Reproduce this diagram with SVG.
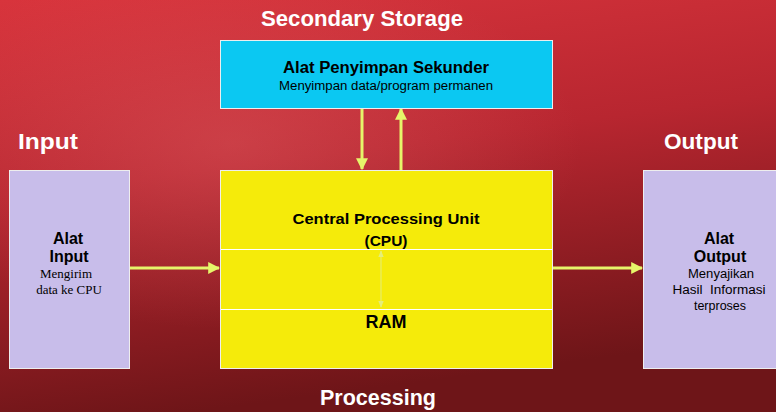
<svg xmlns="http://www.w3.org/2000/svg" width="776" height="412" viewBox="0 0 776 412">
<defs>
<linearGradient id="bg" x1="0" y1="0" x2="0.25" y2="1">
<stop offset="0" stop-color="#d8343c"/>
<stop offset="0.45" stop-color="#b82630"/>
<stop offset="1" stop-color="#6e1518"/>
</linearGradient>
<radialGradient id="glow" cx="0.3" cy="0.35" r="0.45">
<stop offset="0" stop-color="#e86a6e" stop-opacity="0.35"/>
<stop offset="1" stop-color="#e86a6e" stop-opacity="0"/>
</radialGradient>
<marker id="ah" viewBox="0 0 10 10" refX="9" refY="5" markerWidth="4" markerHeight="4" orient="auto-start-reverse">
<path d="M0,0 L10,5 L0,10 z" fill="#e6f56a"/>
</marker>
<marker id="ahf" viewBox="0 0 10 10" refX="9" refY="5" markerWidth="7" markerHeight="7" orient="auto-start-reverse">
<path d="M0,1 L10,5 L0,9 z" fill="#e4ee7a"/>
</marker>
<style>
.hd{font-family:"Liberation Sans",Arial,sans-serif;font-weight:bold;fill:#ffffff;font-size:22px}
.b{font-family:"Liberation Sans",Arial,sans-serif;font-weight:bold;fill:#000}
.s{font-family:"Liberation Sans",Arial,sans-serif;fill:#000;font-size:12.5px}
.sr{font-family:"Liberation Serif","Times New Roman",serif;fill:#000;font-size:13px}
.box{stroke:#eeeeee;stroke-width:1}
.con{stroke:#e6f56a;stroke-width:3;fill:none}
</style>
</defs>
<rect x="0" y="0" width="776" height="412" fill="url(#bg)"/>
<rect x="0" y="0" width="776" height="412" fill="url(#glow)"/>

<text class="hd" x="362" y="26" text-anchor="middle" textLength="202" lengthAdjust="spacingAndGlyphs">Secondary Storage</text>
<text class="hd" x="18" y="149" textLength="60" lengthAdjust="spacingAndGlyphs">Input</text>
<text class="hd" x="664" y="149" textLength="74" lengthAdjust="spacingAndGlyphs">Output</text>
<text class="hd" x="378" y="405" text-anchor="middle" textLength="116" lengthAdjust="spacingAndGlyphs">Processing</text>

<g id="connectors">
<line class="con" x1="362" y1="108" x2="362" y2="169" marker-end="url(#ah)"/>
<line class="con" x1="401" y1="170" x2="401" y2="109" marker-end="url(#ah)"/>
<line class="con" x1="130" y1="268" x2="219" y2="268" marker-end="url(#ah)"/>
<line class="con" x1="553" y1="268" x2="642" y2="268" marker-end="url(#ah)"/>
</g>

<g id="storage">
<rect class="box" x="220.5" y="40.5" width="332" height="68" fill="#0bc8f2"/>
<text class="b" x="386" y="73" text-anchor="middle" font-size="16" textLength="206" lengthAdjust="spacingAndGlyphs">Alat Penyimpan Sekunder</text>
<text class="s" x="386" y="90" text-anchor="middle" textLength="214" lengthAdjust="spacingAndGlyphs">Menyimpan data/program permanen</text>
</g>

<g id="cpu">
<rect class="box" x="220.5" y="170.5" width="332" height="198" fill="#f5eb0a"/>
<line x1="221" y1="249.5" x2="552" y2="249.5" stroke="#ffffff" stroke-width="1"/>
<line x1="221" y1="309.5" x2="552" y2="309.5" stroke="#ffffff" stroke-width="1"/>
<text class="b" x="386" y="224" text-anchor="middle" font-size="15.5" textLength="187" lengthAdjust="spacingAndGlyphs">Central Processing Unit</text>
<text class="b" x="386" y="246" text-anchor="middle" font-size="15.5">(CPU)</text>
<line x1="381" y1="251" x2="381" y2="307" stroke="#e4ee7a" stroke-width="1" marker-start="url(#ahf)" marker-end="url(#ahf)"/>
<text class="b" x="386" y="328" text-anchor="middle" font-size="18">RAM</text>
</g>

<g id="input">
<rect class="box" x="9.5" y="170.5" width="120" height="198" fill="#c8bdea"/>
<text class="b" x="68" y="244" text-anchor="middle" font-size="16">Alat</text>
<text class="b" x="69" y="262" text-anchor="middle" font-size="16">Input</text>
<text class="sr" x="66" y="278" text-anchor="middle">Mengirim</text>
<text class="sr" x="69" y="294" text-anchor="middle">data ke CPU</text>
</g>

<g id="output">
<rect class="box" x="643.5" y="170.5" width="140" height="198" fill="#c8bdea"/>
<text class="b" x="719" y="244" text-anchor="middle" font-size="16">Alat</text>
<text class="b" x="720" y="262" text-anchor="middle" font-size="16">Output</text>
<text class="s" x="721" y="278" text-anchor="middle" textLength="66" lengthAdjust="spacingAndGlyphs">Menyajikan</text>
<text class="s" x="719" y="294" text-anchor="middle" xml:space="preserve" textLength="93" lengthAdjust="spacingAndGlyphs">Hasil  Informasi</text>
<text class="s" x="720" y="310" text-anchor="middle">terproses</text>
</g>
</svg>
